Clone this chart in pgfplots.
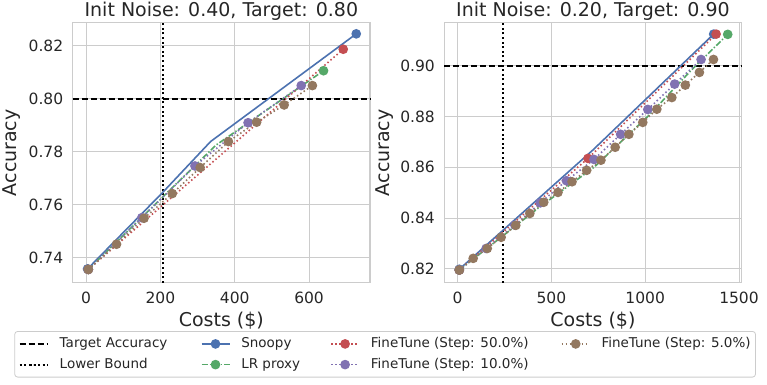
\documentclass[border=0pt]{standalone}
\usepackage{fontspec}
\setmainfont{DejaVu Sans}
\usepackage{pgfplots}
\pgfplotsset{compat=1.18}
\definecolor{sblue}{HTML}{4C72B0}
\definecolor{sgreen}{HTML}{55A868}
\definecolor{sred}{HTML}{C44E52}
\definecolor{spurple}{HTML}{8172B2}
\definecolor{sbrown}{HTML}{937860}
\definecolor{gridc}{HTML}{CCCCCC}
\definecolor{txt}{HTML}{262626}
\pgfplotsset{
  myax/.style={
    scale only axis, width=297.3pt, height=260pt,
    axis line style={gridc, line width=1.1pt},
    grid=major, major grid style={gridc, line width=0.9pt},
    major tick length=0pt, tick style={draw=none},
    scaled ticks=false,
    /pgf/number format/assume math mode=true,
    /pgf/number format/1000 sep={},
    ticklabel style={font=\fontsize{15.5}{18}\selectfont, text=txt},
    yticklabel style={xshift=-6pt, /pgf/number format/fixed, /pgf/number format/fixed zerofill, /pgf/number format/precision=2},
    xticklabel style={yshift=-6pt},
    label style={font=\fontsize{19}{22}\selectfont, text=txt},
    title style={font=\fontsize{19}{22}\selectfont, text=txt, at={(axis description cs:0.5,1)}, anchor=base},
    xlabel style={at={(axis description cs:0.5,-0.145)}, anchor=center},
    xlabel={Costs (\$)}, ylabel={Accuracy},
    clip=false,
  },
  tgt/.style={black, line width=2pt, dash pattern=on 6pt off 3pt},
  lb/.style={black, line width=2pt, dash pattern=on 2pt off 2.6pt},
  snp/.style={sblue, line width=1.6pt, solid, mark=*, mark size=4pt, mark options={solid, fill=sblue, draw=sblue}},
  lrp/.style={sgreen, line width=1.6pt, dash pattern=on 6pt off 2pt on 1.4pt off 2pt, mark=*, mark size=4pt, mark options={solid, fill=sgreen, draw=sgreen}},
  ft/.style={#1, line width=1.6pt, dash pattern=on 1.5pt off 2.5pt, mark=*, mark size=4pt, mark options={solid, fill=#1, draw=#1}},
}
\newcommand{\lgt}[2]{\hspace*{11pt}\makebox[#1][l]{#2}}
\begin{document}
\begin{tikzpicture}
\path[use as bounding box] (0,0) rectangle (767pt,384pt);
% ---------------- left axis
\begin{axis}[myax,
  at={(72.7pt,101.3pt)}, anchor=south west,
  title={Init Noise: 0.40, Target: 0.80},
  xmin=-36, xmax=764, ymin=0.7306, ymax=0.8286,
  xtick={0,200,400,600}, ytick={0.74,0.76,0.78,0.80,0.82},
  ylabel style={at={(axis description cs:-0.205,0.5)}, anchor=center, rotate=0},
  legend style={at={(axis description cs:-0.1964,-0.1858)}, anchor=north west,
    draw=gridc, rounded corners=3pt, line width=0.8pt, fill=white,
    inner xsep=4pt, inner ysep=5.5pt,
    font=\fontsize{13.5}{16}\selectfont, text=txt,
    column sep=0pt, row sep=6.7pt,
    nodes={inner sep=0pt, anchor=west, text height=10.5pt, text depth=3.5pt}},
  legend cell align=left,
  legend columns=2, transpose legend,
  legend image code/.code={\draw[mark indices={2}] plot coordinates {(0pt,0pt) (14pt,0pt) (28pt,0pt)};},
]
\addplot[tgt] coordinates {(-36,0.80) (764,0.80)};
\addlegendentry{\lgt{141pt}{Target Accuracy}}
\addplot[lb] coordinates {(206,0.7306) (206,0.8286)};
\addlegendentry{\lgt{141pt}{Lower Bound}}
\addplot[snp, mark indices={1,4}] coordinates {(4,0.7358) (206,0.7646) (335,0.7838) (727,0.8244)};
\addlegendentry{\lgt{89pt}{Snoopy}}
\addplot[lrp, mark indices={1,3}] coordinates {(6,0.7356) (350,0.7825) (639,0.8105)};
\addlegendentry{\lgt{89pt}{LR proxy}}
\addplot[ft=sred] coordinates {(6,0.7356) (692,0.8186)};
\addlegendentry{\lgt{190pt}{FineTune (Step: 50.0\%)}}
\addplot[ft=spurple] coordinates {(6,0.7356) (150,0.7551) (293,0.7746) (436,0.7909) (579,0.8049)};
\addlegendentry{\lgt{190pt}{FineTune (Step: 10.0\%)}}
\addplot[ft=sbrown] coordinates {(6,0.7356) (82,0.7451) (156,0.7549) (232,0.7642) (307,0.7740) (383,0.7838) (459,0.7911) (533,0.7976) (609,0.8049)};
\addlegendentry{\lgt{150pt}{FineTune (Step: 5.0\%)}}
\end{axis}
% ---------------- right axis
\begin{axis}[myax,
  at={(444.3pt,101.3pt)}, anchor=south west,
  title={Init Noise: 0.20, Target: 0.90},
  xmin=-71, xmax=1514, ymin=0.8145, ymax=0.917,
  xtick={0,500,1000,1500}, ytick={0.82,0.84,0.86,0.88,0.90},
  ylabel style={at={(axis description cs:-0.200,0.5)}, anchor=center, rotate=0},
]
\addplot[tgt] coordinates {(-71,0.90) (1514,0.90)};
\addplot[lb] coordinates {(243,0.8145) (243,0.917)};
\addplot[snp, mark indices={1,3}] coordinates {(9,0.8198) (721,0.8668) (1365,0.9125)};
\addplot[lrp, mark indices={1,6}] coordinates {(9,0.8195) (440,0.8445) (727,0.8600) (1020,0.8805) (1255,0.8990) (1440,0.9124)};
\addplot[ft=sred] coordinates {(9,0.8195) (695,0.8635) (1378,0.9125)};
\addplot[ft=spurple] coordinates {(9,0.8195) (152,0.8280) (305,0.8372) (441,0.8460) (580,0.8547) (727,0.8631) (869,0.8730) (1014,0.8828) (1157,0.8928) (1298,0.9025)};
\addplot[ft=sbrown] coordinates {(9,0.8195) (83,0.8241) (158,0.8280) (232,0.8324) (310,0.8371) (385,0.8418) (459,0.8462) (535,0.8501) (610,0.8543) (688,0.8588) (764,0.8628) (840,0.8679) (913,0.8730) (987,0.8777) (1062,0.8829) (1142,0.8875) (1214,0.8924) (1289,0.8974) (1364,0.9025)};
\end{axis}
\end{tikzpicture}
\end{document}
